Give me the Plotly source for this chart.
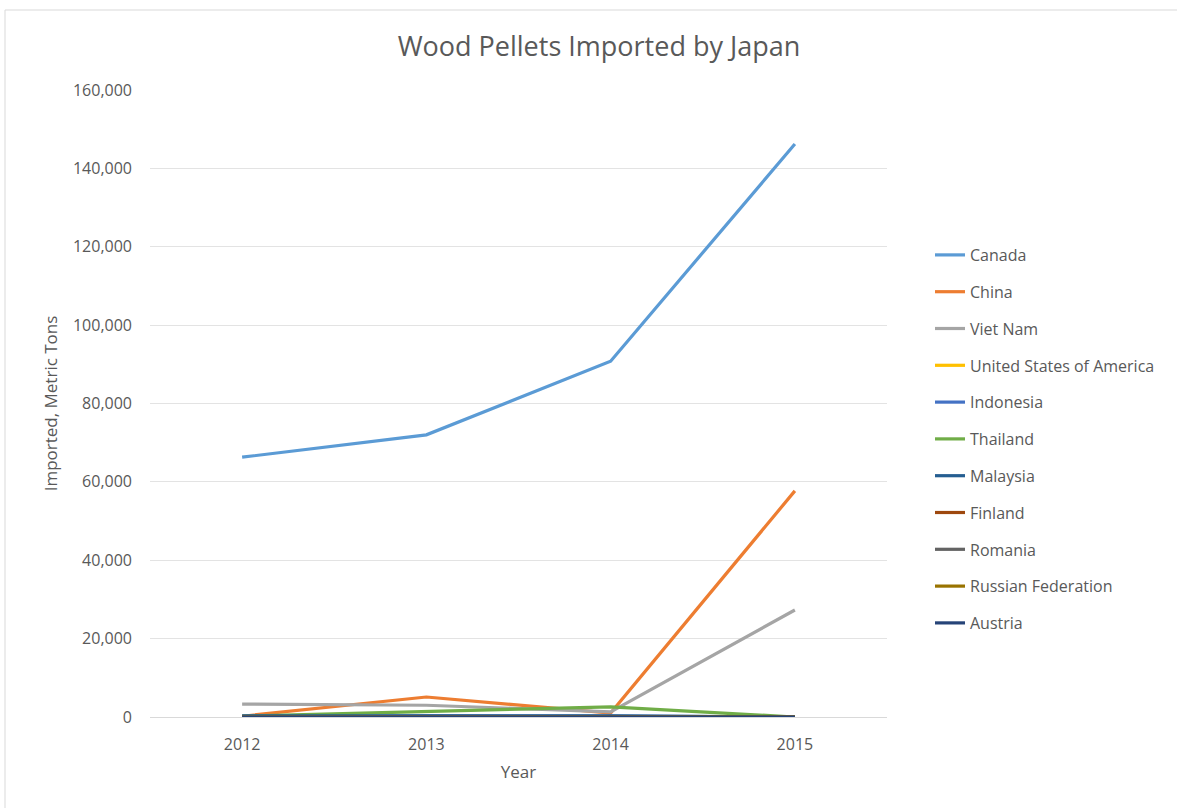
import plotly.graph_objects as go

years = ["2012", "2013", "2014", "2015"]
countries = ["Canada", "China", "Viet Nam", "United States of America", "Indonesia",
             "Thailand", "Malaysia", "Finland", "Romania", "Russian Federation", "Austria"]
canada = [66300, 72000, 90800, 146200]
china = [200, 5100, 1000, 57700]
viet_nam = [3300, 3000, 1300, 27300]
usa = [0, 0, 0, 0]
indonesia = [100, 300, 200, 0]
thailand = [200, 1500, 2600, 0]
malaysia = [300, 300, 300, 0]
finland = [0, 0, 0, 0]
romania = [100, 100, 100, 0]
russia = [0, 0, 0, 0]
austria = [0, 0, 0, 0]
series = [canada, china, viet_nam, usa, indonesia, thailand, malaysia, finland, romania, russia, austria]
colors = ["#5B9BD5", "#ED7D31", "#A5A5A5", "#FFC000", "#4472C4", "#70AD47",
          "#255E91", "#9E480E", "#636363", "#997300", "#264478"]
y_ticks = [0, 20000, 40000, 60000, 80000, 100000, 120000, 140000, 160000]

W, H = 1177, 808
L, R, T, B = 150, 290, 90, 91
pw, ph = W - L - R, H - T - B

fig = go.Figure()
for i, (name, vals, col) in enumerate(zip(countries, series, colors)):
    fig.add_trace(go.Scatter(x=years, y=vals, name=name, mode="lines",
                             line=dict(color=col, width=3.2),
                             legendgroup=f"g{i}"))

font_fam = "Open Sans, Liberation Sans, sans-serif"
fig.update_layout(
    width=W, height=H,
    margin=dict(l=L, r=R, t=T, b=B),
    paper_bgcolor="white", plot_bgcolor="white",
    font=dict(family=font_fam, color="#595959", size=16),
    title=dict(text="Wood Pellets Imported by Japan", x=599 / W, xanchor="center",
               y=1 - 47 / H, yanchor="middle",
               font=dict(size=27, color="#595959", family=font_fam)),
    showlegend=True,
    legend=dict(x=(930 - L) / pw, xanchor="left", y=1 - (238 - T) / ph, yanchor="top",
                font=dict(size=16, color="#595959"), tracegroupgap=13,
                bgcolor="rgba(0,0,0,0)", itemwidth=30),
    xaxis=dict(type="category", range=[-0.5, 3.5], showgrid=False, zeroline=False,
               showline=False, ticks="", ticklabelstandoff=16,
               tickfont=dict(size=16, color="#595959"),
               title=dict(text="Year", font=dict(size=17, color="#595959"), standoff=12)),
    yaxis=dict(range=[0, 160000], tickvals=y_ticks, tickformat=",d",
               showgrid=True, gridcolor="#E3E3E3", gridwidth=1, zeroline=True,
               zerolinecolor="#D9D9D9", zerolinewidth=1, showline=False, ticks="",
               ticklabelstandoff=17, tickfont=dict(size=16, color="#595959"),
               title=dict(text="Imported, Metric Tons", font=dict(size=17, color="#595959"),
                          standoff=11)),
)

# outer chart frame
fig.add_shape(type="rect", xref="paper", yref="paper",
              x0=(5 - L) / pw, x1=(W + 20 - L) / pw,
              y0=-(H + 20 - T - ph) / ph, y1=1 + (T - 10) / ph,
              line=dict(color="#D9D9D9", width=1), layer="below")

fig.write_html("out.html")
